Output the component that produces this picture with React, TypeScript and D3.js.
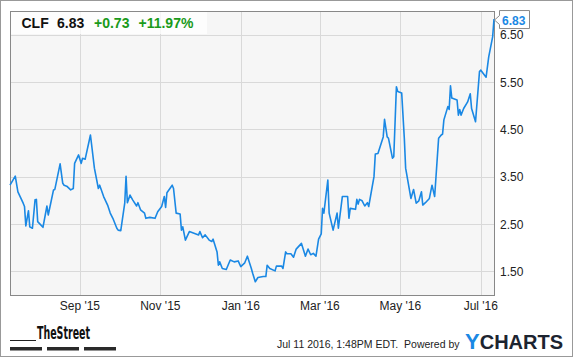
import React from "react";
import * as d3 from "d3";

const ticker = "CLF";
const lastPrice = "6.83";
const change = "+0.73";
const changePct = "+11.97%";
const timestamp = "Jul 11 2016, 1:48PM EDT.  Powered by";

const dates = [
  "2015-07-10","2015-07-14","2015-07-16","2015-07-20","2015-07-21","2015-07-22","2015-07-24","2015-07-25","2015-07-27","2015-07-29",
  "2015-07-30","2015-07-31","2015-08-04","2015-08-07","2015-08-08","2015-08-12","2015-08-13","2015-08-17","2015-08-19","2015-08-20",
  "2015-08-22","2015-08-25","2015-08-27","2015-08-28","2015-08-31","2015-09-02","2015-09-03","2015-09-05","2015-09-09","2015-09-12",
  "2015-09-15","2015-09-16","2015-09-19","2015-09-22","2015-09-24","2015-09-26","2015-09-29","2015-09-30","2015-10-02","2015-10-05",
  "2015-10-06","2015-10-07","2015-10-09","2015-10-11","2015-10-14","2015-10-15","2015-10-17","2015-10-20","2015-10-21","2015-10-24",
  "2015-10-28","2015-10-30","2015-11-02","2015-11-04","2015-11-05","2015-11-06","2015-11-10","2015-11-11","2015-11-13","2015-11-16",
  "2015-11-17","2015-11-18","2015-11-20","2015-11-23","2015-11-27","2015-11-30","2015-12-01","2015-12-03","2015-12-05","2015-12-08",
  "2015-12-10","2015-12-11","2015-12-14","2015-12-15","2015-12-16","2015-12-18","2015-12-21","2015-12-24","2015-12-27","2015-12-30",
  "2016-01-01","2016-01-04","2016-01-06","2016-01-09","2016-01-10","2016-01-12","2016-01-14","2016-01-18","2016-01-20","2016-01-21",
  "2016-01-23","2016-01-27","2016-01-28","2016-02-01","2016-02-02","2016-02-04","2016-02-05","2016-02-08","2016-02-10","2016-02-12",
  "2016-02-16","2016-02-19","2016-02-21","2016-02-23","2016-02-25","2016-02-27","2016-02-29","2016-03-02","2016-03-03","2016-03-04",
  "2016-03-07","2016-03-08","2016-03-11","2016-03-14","2016-03-15","2016-03-18","2016-03-22","2016-03-23","2016-03-24","2016-03-28",
  "2016-03-29","2016-03-30","2016-03-31","2016-04-02","2016-04-04","2016-04-06","2016-04-07","2016-04-11","2016-04-12","2016-04-14",
  "2016-04-18","2016-04-19","2016-04-21","2016-04-22","2016-04-25","2016-04-26","2016-04-28","2016-04-29","2016-05-02","2016-05-04",
  "2016-05-05","2016-05-09","2016-05-11","2016-05-13","2016-05-15","2016-05-17","2016-05-18","2016-05-20","2016-05-23","2016-05-25",
  "2016-05-27","2016-05-30","2016-06-01","2016-06-02","2016-06-03","2016-06-06","2016-06-07","2016-06-08","2016-06-09","2016-06-12",
  "2016-06-13","2016-06-14","2016-06-15","2016-06-16","2016-06-18","2016-06-21","2016-06-23","2016-06-24","2016-06-27","2016-06-30",
  "2016-07-01","2016-07-05","2016-07-07","2016-07-10","2016-07-11"
];

const prices = [
  3.32,3.51,3.18,2.94,2.87,2.46,2.78,2.44,2.41,3.01,
  3.02,2.55,2.43,2.88,2.69,3.22,3.23,3.77,3.36,3.32,
  3.30,3.22,3.25,3.78,3.96,3.78,3.89,3.87,4.38,3.68,
  3.25,3.32,3.08,2.90,2.73,2.62,2.41,2.37,2.36,2.94,
  3.51,2.95,3.11,3.01,2.88,2.95,2.80,2.73,2.62,2.64,
  2.62,2.76,2.87,3.08,2.85,3.16,3.32,3.25,2.73,2.71,
  2.37,2.44,2.16,2.34,2.30,2.27,2.34,2.21,2.27,2.16,
  2.13,2.18,1.91,1.63,1.70,1.56,1.54,1.74,1.70,1.72,
  1.60,1.68,1.82,1.56,1.46,1.28,1.37,1.39,1.39,1.63,
  1.56,1.51,1.61,1.61,1.56,1.91,1.87,1.87,1.80,1.97,
  2.09,1.82,1.97,1.85,1.88,1.82,2.18,2.29,2.83,2.73,
  3.43,2.73,2.37,2.73,2.41,3.08,3.08,2.62,2.83,2.81,
  3.02,2.92,3.02,2.99,2.88,2.95,2.87,3.50,3.98,3.99,
  4.34,4.71,4.34,4.31,3.89,3.92,5.40,5.30,5.27,4.31,
  3.68,3.04,3.23,2.94,2.99,3.18,2.90,2.95,3.04,3.32,
  3.08,4.31,4.38,4.40,4.70,4.98,4.92,5.42,5.16,5.13,
  5.12,4.80,4.92,4.80,4.94,5.08,5.25,4.94,4.66,5.72,
  5.75,5.60,6.03,6.46,6.83
];

const yTicks = [1.5, 2.5, 3.5, 4.5, 5.5, 6.5];
const xTicks = ["2015-09-01", "2015-11-01", "2016-01-01", "2016-03-01", "2016-05-01", "2016-07-01"];
const xDomain = ["2015-07-10", "2016-07-11"];
const yDomain = [1, 7];

const W = 575;
const H = 358;
const plot = { left: 10, right: 494, top: 11, bottom: 295 };
const FONT = "'Liberation Sans', Arial, Helvetica, sans-serif";
const LINE_COLOR = "#1a88e4";
const GREEN = "#1a9a1a";

export default function App() {
  const parse = d3.timeParse("%Y-%m-%d");
  const fmt = d3.timeFormat("%b '%y");
  const x = d3.scaleTime().domain(xDomain.map((d) => parse(d) as Date)).range([plot.left, plot.right]);
  const y = d3.scaleLinear().domain(yDomain).range([plot.bottom, plot.top]);
  const data = dates.map((d, i) => ({ date: parse(d) as Date, value: prices[i] }));
  const line = d3
    .line<{ date: Date; value: number }>()
    .x((d) => x(d.date))
    .y((d) => y(d.value));
  const last = data[data.length - 1];
  const lx = x(last.date);
  const ly = y(last.value);
  const yFmt = d3.format(".2f");

  return (
    <svg
      width={W}
      height={H}
      style={{ position: "absolute", left: 0, top: 0, background: "#fff" }}
      fontFamily={FONT}
    >
      <rect x={0.5} y={0.5} width={572} height={356} fill="#fff" stroke="#999" />
      <rect
        x={plot.left}
        y={plot.top}
        width={plot.right - plot.left}
        height={plot.bottom - plot.top}
        fill="#f6f6f6"
      />
      {yTicks.map((t) => (
        <line
          key={"gy" + t}
          x1={plot.left}
          x2={plot.right}
          y1={Math.round(y(t)) + 0.5}
          y2={Math.round(y(t)) + 0.5}
          stroke="#d9d9d9"
        />
      ))}
      {xTicks.map((t) => {
        const xx = Math.round(x(parse(t) as Date)) + 0.5;
        return (
          <line key={"gx" + t} x1={xx} x2={xx} y1={plot.top} y2={plot.bottom} stroke="#d9d9d9" />
        );
      })}
      <rect
        x={plot.left + 0.5}
        y={plot.top + 0.5}
        width={plot.right - plot.left}
        height={plot.bottom - plot.top}
        fill="none"
        stroke="#888"
      />
      <path d={line(data) || ""} fill="none" stroke={LINE_COLOR} strokeWidth={1.6} strokeLinejoin="round" />

      {/* header box */}
      <rect x={plot.left + 1} y={plot.top + 1} width={196} height={22} fill="#fff" fillOpacity={0.72} />
      <text x={21.5} y={28} fontSize={14} fontWeight="bold" fill="#111">{ticker}</text>
      <text x={57} y={28} fontSize={14} fontWeight="bold" fill="#111">{lastPrice}</text>
      <text x={94} y={28} fontSize={14} fontWeight="bold" fill={GREEN}>{change}</text>
      <text x={138.5} y={28} fontSize={14} fontWeight="bold" fill={GREEN}>{changePct}</text>

      {/* y axis labels */}
      {yTicks.map((t) => (
        <text key={"yl" + t} x={500} y={y(t) + 4.5} fontSize={12} fill="#222">
          {yFmt(t)}
        </text>
      ))}

      {/* last value flag */}
      <path
        d={`M${lx + 0.5},${ly + 1} L${lx + 5.5},${ly - 3.5} L${lx + 5.5},${ly - 8.5} L${lx + 35.5},${ly - 8.5} L${lx + 35.5},${ly + 9.5} L${lx + 5.5},${ly + 9.5} L${lx + 5.5},${ly + 5.5} Z`}
        fill="#fff"
        stroke="#8a8a8a"
      />
      <text x={lx + 8} y={ly + 5.5} fontSize={12} fontWeight="bold" fill={LINE_COLOR}>
        {yFmt(last.value)}
      </text>

      {/* x axis labels */}
      {xTicks.map((t) => (
        <text key={"xl" + t} x={x(parse(t) as Date)} y={310} fontSize={12} fill="#222" textAnchor="middle">
          {fmt(parse(t) as Date)}
        </text>
      ))}

      {/* TheStreet logo */}
      <line x1={10} x2={36} y1={340.5} y2={340.5} stroke="#222" />
      <text
        x={37}
        y={339}
        fontSize={17}
        fontWeight="bold"
        fill="#111"
        textLength={53}
        lengthAdjust="spacingAndGlyphs"
        fontFamily="'Liberation Sans Narrow', 'DejaVu Sans Condensed', Arial, sans-serif"
      >
        TheStreet
      </text>
      <rect x={10} y={347} width={32} height={3.5} fill="#2a2a2a" />
      <rect x={47} y={347} width={32} height={3.5} fill="#2a2a2a" />
      <rect x={84} y={347} width={32} height={3.5} fill="#2a2a2a" />

      {/* footer */}
      <text x={277} y={348} fontSize={10.5} fill="#222" xmlSpace="preserve">
        {timestamp}
      </text>
      <text x={465} y={348.5} fontSize={20} fontWeight="bold">
        <tspan fill={LINE_COLOR} fontSize={22}>Y</tspan>
        <tspan fill="#1c2430">CHARTS</tspan>
      </text>
    </svg>
  );
}
